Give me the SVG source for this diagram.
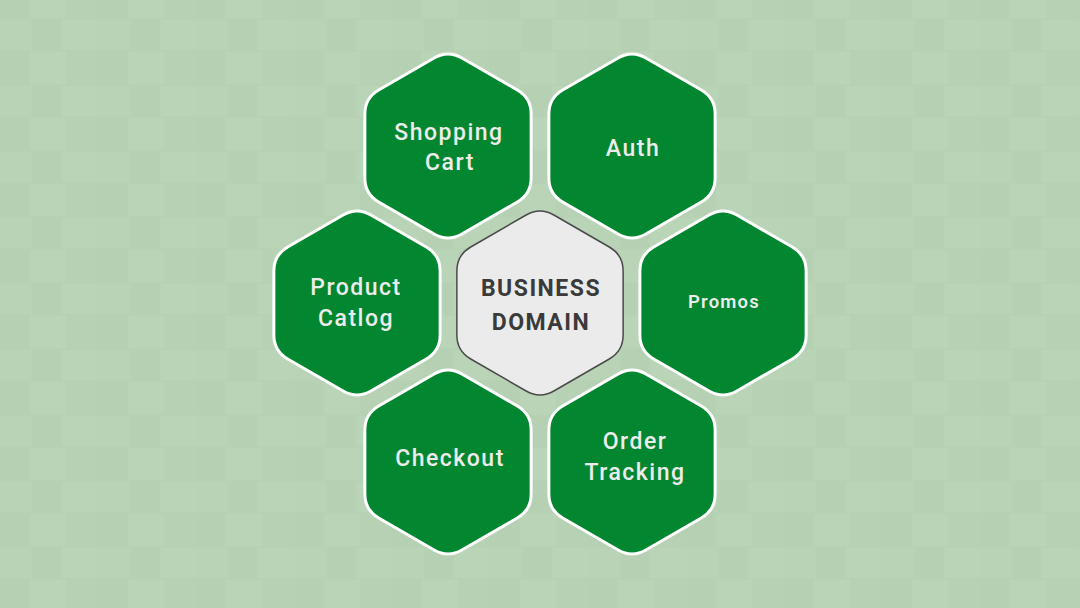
<svg xmlns="http://www.w3.org/2000/svg" width="1080" height="608" viewBox="0 0 1080 608">
  <defs>
    <pattern id="bgp" x="0" y="0" width="98" height="66" patternUnits="userSpaceOnUse">
      <rect x="0" y="0" width="98" height="66" fill="#b7d1b5"/>
      <rect x="0" y="0" width="28" height="18" fill="#b6d0b4"/>
      <rect x="30" y="0" width="36" height="18" fill="#bad4b8"/>
      <rect x="68" y="0" width="30" height="18" fill="#b7d1b5"/>
      <rect x="0" y="20" width="32" height="30" fill="#b9d3b7"/>
      <rect x="34" y="20" width="26" height="30" fill="#b6d0b4"/>
      <rect x="62" y="20" width="36" height="30" fill="#bad4b8"/>
      <rect x="0" y="52" width="28" height="14" fill="#b6d0b4"/>
      <rect x="30" y="52" width="36" height="14" fill="#bad4b8"/>
      <rect x="68" y="52" width="30" height="14" fill="#b7d1b5"/>
    </pattern>
    <path id="hex" d="M -13.86,-88 Q 0,-96 13.86,-88 L 69.28,-56 Q 83.14,-48 83.14,-32 L 83.14,32 Q 83.14,48 69.28,56 L 13.86,88 Q 0,96 -13.86,88 L -69.28,56 Q -83.14,48 -83.14,32 L -83.14,-32 Q -83.14,-48 -69.28,-56 Z"/>
  </defs>
  <style>
    .g { fill: #02862f; stroke: #ffffff; stroke-width: 3; }
    .c { fill: #ebebeb; stroke: #4a4a4a; stroke-width: 1.5; }
    .t { font-family: Roboto, "Liberation Sans", sans-serif; font-weight: 500; font-size: 23px; fill: #ececec; text-anchor: middle; letter-spacing: 1.5px; }
    .ts { font-size: 18.5px; font-weight: 600; letter-spacing: 1.2px; }
    .tc { font-family: Roboto, "Liberation Sans", sans-serif; font-weight: 700; font-size: 23px; fill: #3a3a3a; text-anchor: middle; letter-spacing: 1.5px; }
  </style>
  <rect x="0" y="0" width="1080" height="608" fill="url(#bgp)"/>
  <g id="connectors"/>
  <g id="shopping-cart">
    <use href="#hex" x="448" y="146" class="g"/>
    <text class="t" x="449" y="140">Shopping</text>
    <text class="t" x="450" y="170">Cart</text>
  </g>
  <g id="auth">
    <use href="#hex" x="632" y="146" class="g"/>
    <text class="t" x="633" y="156">Auth</text>
  </g>
  <g id="product-catlog">
    <use href="#hex" x="357" y="303" class="g"/>
    <text class="t" x="356" y="295">Product</text>
    <text class="t" x="356" y="326">Catlog</text>
  </g>
  <g id="business-domain">
    <use href="#hex" x="540" y="303" class="c"/>
    <text class="tc" x="541" y="296">BUSINESS</text>
    <text class="tc" x="541" y="330">DOMAIN</text>
  </g>
  <g id="promos">
    <use href="#hex" x="723" y="303" class="g"/>
    <text class="t ts" x="724" y="308">Promos</text>
  </g>
  <g id="checkout">
    <use href="#hex" x="448" y="462" class="g"/>
    <text class="t" x="450" y="466">Checkout</text>
  </g>
  <g id="order-tracking">
    <use href="#hex" x="632" y="462" class="g"/>
    <text class="t" x="635" y="449">Order</text>
    <text class="t" x="635" y="480">Tracking</text>
  </g>
</svg>
